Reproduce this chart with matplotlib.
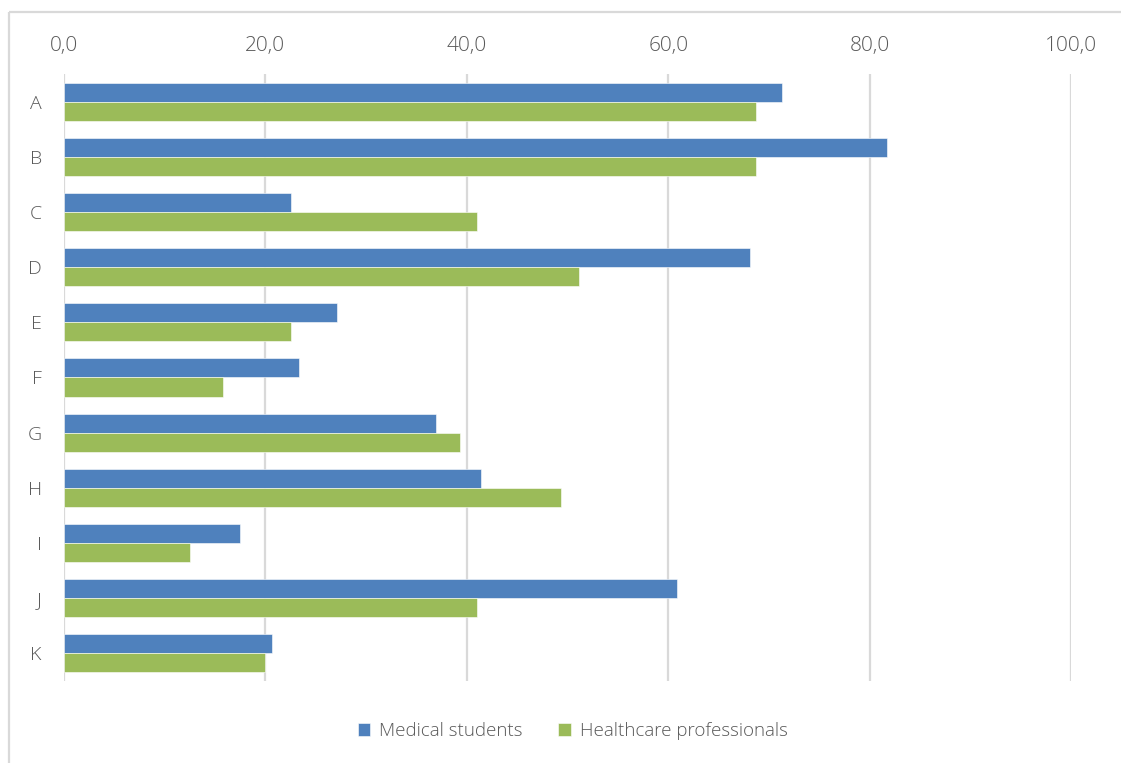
import numpy as np
import matplotlib.pyplot as plt
from matplotlib.lines import Line2D
from matplotlib.ticker import FuncFormatter

categories = ['A', 'B', 'C', 'D', 'E', 'F', 'G', 'H', 'I', 'J', 'K']
medical_students = [71.3, 81.7, 22.5, 68.1, 27.1, 23.3, 36.9, 41.4, 17.5, 60.9, 20.7]
healthcare_professionals = [68.7, 68.7, 41.0, 51.1, 22.5, 15.8, 39.3, 49.4, 12.5, 41.0, 20.0]

blue = '#4F81BD'
green = '#9BBB59'
text_color = '#595959'
grid_color = '#D9D9D9'

plt.rcParams['font.family'] = ['Open Sans', 'DejaVu Sans']
plt.rcParams['font.weight'] = 'light'

fig = plt.figure(figsize=(11.21, 7.63), dpi=100)
ax = fig.add_axes([0.0571, 0.1081, 0.8983, 0.7943])

# chart frame: only the top and left edges are inside the image
fx, fy = 9 / 1121, 1 - 12 / 763
fig.lines.append(Line2D([fx, 1.05], [fy, fy], transform=fig.transFigure,
                        color=grid_color, linewidth=1.6, solid_capstyle='butt'))
fig.lines.append(Line2D([fx, fx], [-0.05, fy], transform=fig.transFigure,
                        color=grid_color, linewidth=1.6, solid_capstyle='butt'))

y = np.arange(len(categories))
h = 0.345
ax.barh(y - h / 2, medical_students, height=h, color=blue,
        edgecolor='white', linewidth=0.4, label='Medical students', zorder=3)
ax.barh(y + h / 2, healthcare_professionals, height=h, color=green,
        edgecolor='white', linewidth=0.4, label='Healthcare professionals', zorder=3)

ax.set_xlim(0, 100)
ax.set_ylim(len(categories) - 0.5, -0.5)
ax.set_xticks(np.arange(0, 101, 20))
ax.xaxis.set_major_formatter(FuncFormatter(lambda v, p: f'{v:.1f}'.replace('.', ',')))
ax.xaxis.tick_top()
ax.set_yticks(y)
ax.set_yticklabels(categories)
ax.tick_params(axis='x', length=0, pad=13, labelsize=15, labelcolor=text_color)
ax.tick_params(axis='y', length=0, pad=16, labelsize=14, labelcolor=text_color)

ax.grid(axis='x', color=grid_color, linewidth=1.6, zorder=0)
for s in ax.spines.values():
    s.set_visible(False)

fig.legend(loc='center', bbox_to_anchor=(0.511, 0.042), ncol=2, frameon=False,
           fontsize=13.5, labelcolor=text_color, handlelength=0.65, handleheight=0.65,
           handletextpad=0.5, columnspacing=1.9)

fig.savefig('out.png', dpi=100)
